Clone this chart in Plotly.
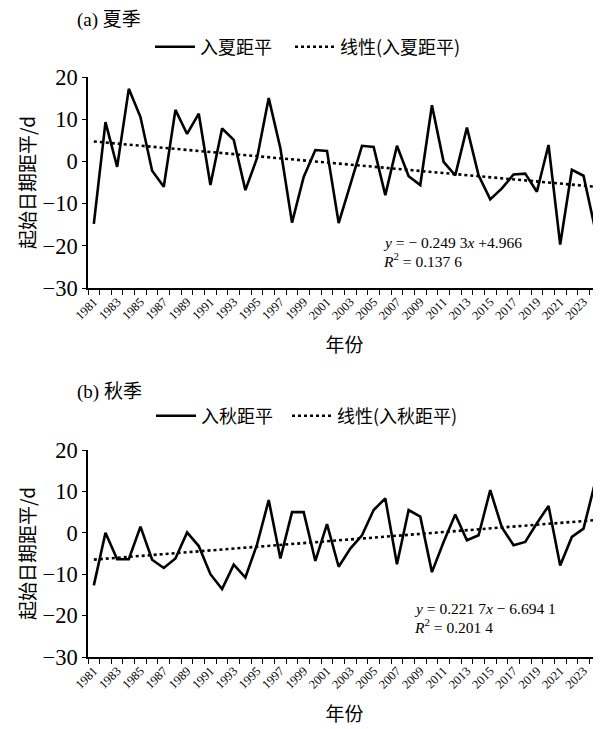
import plotly.graph_objects as go
from plotly.subplots import make_subplots

years = list(range(1981, 2025))
summer = [-14.8, 9.3, -1.3, 17.2, 10.5, -2.2, -6.0, 12.2, 6.5, 11.3,
          -5.6, 7.8, 5.1, -6.8, 0.8, 15.0, 3.1, -14.5, -3.7, 2.7,
          2.5, -14.6, -5.5, 3.7, 3.4, -8.0, 3.7, -3.5, -5.6, 13.3,
          -0.1, -3.3, 8.0, -3.3, -9.0, -6.4, -3.1, -2.9, -7.2, 3.9,
          -19.7, -2.0, -3.4, -16.1]
autumn = [-12.7, 0.0, -6.4, -6.4, 1.5, -6.5, -8.5, -6.2, 0.1, -3.2,
          -10.0, -13.6, -7.7, -10.8, -2.8, 7.9, -6.2, 5.0, 5.0, -6.8,
          2.1, -8.2, -3.8, -0.6, 5.5, 8.3, -7.6, 5.5, 3.9, -9.5,
          -2.2, 4.4, -1.8, -0.6, 10.3, 1.3, -3.0, -2.2, 2.3, 6.5,
          -7.9, -1.0, 1.0, 12.2]

summer_fit = (-0.2493, 4.966)
autumn_fit = (0.2217, -6.6941)

tick_years = list(range(1981, 2024, 2))
tick_labels = [str(y) for y in tick_years]
y_ticks = [-30, -20, -10, 0, 10, 20]

summer_trend = [summer_fit[0] * (i + 1) + summer_fit[1] for i in range(len(years))]
autumn_trend = [autumn_fit[0] * (i + 1) + autumn_fit[1] for i in range(len(years))]

SERIF = "Liberation Serif, Noto Sans CJK SC, serif"
CJK = "Noto Sans CJK SC, sans-serif"

W, H = 601, 729
OFF = 8  # page body margin offset compensation
ML, MR = 88 - OFF, OFF
PW = W - ML - MR


def py(sy):
    return 1 - (sy - OFF) / H


def pxp(sx):
    return (sx - OFF - ML) / PW


fig = make_subplots(rows=2, cols=1)

fig.add_trace(go.Scatter(x=years, y=summer, mode="lines", name="入夏距平", showlegend=True,
                         line=dict(color="black", width=2.6), legend="legend"), row=1, col=1)
fig.add_trace(go.Scatter(x=years, y=summer_trend, mode="lines", name="线性(入夏距平)", showlegend=True,
                         line=dict(color="black", width=2.6, dash="dot"), legend="legend2"), row=1, col=1)
fig.add_trace(go.Scatter(x=years, y=autumn, mode="lines", name="入秋距平", showlegend=True,
                         line=dict(color="black", width=2.6), legend="legend3"), row=2, col=1)
fig.add_trace(go.Scatter(x=years, y=autumn_trend, mode="lines", name="线性(入秋距平)", showlegend=True,
                         line=dict(color="black", width=2.6, dash="dot"), legend="legend4"), row=2, col=1)

xcommon = dict(range=[1980.5, 2024.5], tickmode="array", tickvals=tick_years, ticktext=tick_labels,
               tickangle=-45, ticks="", showgrid=False, zeroline=False, automargin=False,
               showline=True, linecolor="black", linewidth=1.5,
               tickfont=dict(family=SERIF, size=12.5, color="black"),
               minor=dict(tickmode="linear", tick0=1980.5, dtick=1, ticks="outside",
                          ticklen=5, tickcolor="black", tickwidth=1.2, showgrid=False),
               title=dict(text="年份", font=dict(family=CJK, size=19, color="black"), standoff=17))
ycommon = dict(range=[-30, 20], tickmode="array", tickvals=y_ticks, ticks="outside", ticklen=4,
               tickcolor="black", tickwidth=1.2, showgrid=False, zeroline=False, automargin=False,
               showline=True, linecolor="black", linewidth=1.5,
               tickfont=dict(family=SERIF, size=22.5, color="black"),
               title=dict(text="起始日期距平/d", font=dict(family=CJK, size=19, color="black"), standoff=2))

fig.update_xaxes(**xcommon)
fig.update_yaxes(**ycommon)
fig.update_layout(
    xaxis=dict(domain=[0, 1], anchor="y"),
    yaxis=dict(domain=[py(288), py(77)], anchor="x"),
    xaxis2=dict(domain=[0, 1], anchor="y2"),
    yaxis2=dict(domain=[py(657), py(450)], anchor="x2"),
)

legend_style = dict(orientation="h", xanchor="left", yanchor="middle", bgcolor="rgba(0,0,0,0)",
                    font=dict(family=CJK, size=18, color="black"), itemwidth=40)
fig.update_layout(
    width=W, height=H, plot_bgcolor="white", paper_bgcolor="white", showlegend=True,
    margin=dict(l=ML, r=MR, t=0, b=0, autoexpand=False),
    legend=dict(x=pxp(150), y=py(47), **legend_style),
    legend2=dict(x=pxp(290), y=py(47), **legend_style),
    legend3=dict(x=pxp(151), y=py(416), **legend_style),
    legend4=dict(x=pxp(287), y=py(416), **legend_style),
)

ann_font = dict(family=SERIF, size=15.5, color="black")
title_font = dict(family=SERIF, size=19, color="black")
fig.add_annotation(text="(a) 夏季", x=pxp(75), y=py(20), xref="paper", yref="paper",
                   xanchor="left", yanchor="middle", showarrow=False, font=title_font)
fig.add_annotation(text="(b) 秋季", x=pxp(75), y=py(392), xref="paper", yref="paper",
                   xanchor="left", yanchor="middle", showarrow=False, font=title_font)

eq_lines = [
    ("<i>y</i> = − 0.249 3<i>x</i> +4.966", 2005.6, -19.2, "x", "y"),
    ("<i>R</i><sup>2</sup> = 0.137 6", 2005.6, -23.4, "x", "y"),
    ("<i>y</i> = 0.221 7<i>x</i> − 6.694 1", 2008.25, -18.2, "x2", "y2"),
    ("<i>R</i><sup>2</sup> = 0.201 4", 2008.25, -22.6, "x2", "y2"),
]
for text, ax, ay, xr, yr in eq_lines:
    fig.add_annotation(text=text, x=ax, y=ay, xref=xr, yref=yr, xanchor="left", yanchor="middle",
                       align="left", showarrow=False, font=ann_font)

fig.write_html("out.html")
